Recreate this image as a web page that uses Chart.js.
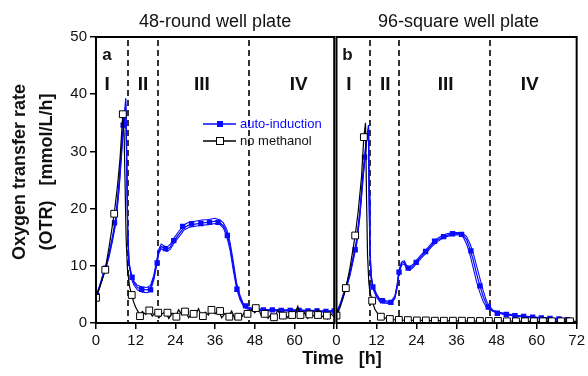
<!DOCTYPE html>
<html>
<head>
<meta charset="utf-8">
<script src="https://cdn.jsdelivr.net/npm/chart.js@4.4.1/dist/chart.umd.min.js"></script>
<style>
  html, body { margin: 0; padding: 0; background: #fff; }
  #wrap { position: relative; width: 588px; height: 376px; overflow: hidden; }
  canvas { position: absolute; top: 0; }
</style>
</head>
<body>
<div id="wrap">
  <canvas id="chartA" width="340" height="376" style="left:0"></canvas>
  <canvas id="chartB" width="298" height="376" style="left:290px"></canvas>
</div>
<script>
// ---- panel a : 48-round well plate ----
const timeBlueA = [0,1,2,3,4,5,6,7,8,8.6,9,9.3,9.6,10,10.8,11.5,12.5,14,15.5,16.5,17.5,18.3,19,19.7,20.5,21.5,22.5,23.5,25,26.5,28,30,32,34,36,37.5,38.5,39.5,40.5,41.5,42.5,43.5,44.5,45.5,47,50,55,60,65,70,72];
const blueA1 = [4.6,6.2,8.0,9.8,12.0,14.8,18.0,24.0,32.5,36.5,39.3,28,16,10.5,8.0,7.0,6.2,5.9,5.8,6.2,8.0,10.4,12.5,13.4,13.1,12.9,13.3,14.3,15.5,16.6,17.1,17.3,17.5,17.6,17.8,17.5,17.0,15.8,13.5,10.0,6.5,4.5,3.2,2.7,2.4,2.3,2.2,2.2,2.1,2.0,2.1];
const blueA2 = [4.8,6.4,8.3,10.1,12.3,15.2,18.6,25.0,33.0,35.5,37.0,27,15,10.0,7.6,6.6,5.8,5.4,5.3,5.7,7.6,10.0,12.2,13.0,12.7,12.5,12.9,13.9,15.0,16.2,16.7,16.9,17.1,17.2,17.4,17.2,16.6,15.2,12.8,9.2,6.0,4.1,3.0,2.5,2.3,2.2,2.1,2.1,2.0,1.9,2.0];
const blueA3 = [4.4,6.0,7.8,9.6,11.7,14.4,17.5,23.5,31.5,36.0,38.2,28.5,15.5,10.3,8.3,7.3,6.6,6.3,6.2,6.6,8.4,10.8,12.9,13.8,13.5,13.3,13.8,14.8,16.0,17.1,17.6,17.8,18.0,18.1,18.3,18.0,17.5,16.4,14.2,10.8,7.0,4.9,3.4,2.9,2.6,2.4,2.3,2.3,2.2,2.1,2.2];
const mkTimeBlueA = [0.3,3.0,5.6,8.2,10.9,13.8,16.5,18.5,21.0,23.5,26.2,28.9,31.7,34.3,36.9,39.7,42.6,45.2,47.9,50.6,53.3,56.0,58.7,61.4,64.1,66.8,69.5,72];
const mkBlueA = [4.8,9.6,17.5,34.6,8.0,5.9,5.8,10.5,13.0,14.4,16.9,17.3,17.4,17.6,17.6,15.3,5.9,3.0,2.5,2.3,2.3,2.2,2.2,2.2,2.1,2.1,2.0,2.1];

const timeBlackA = [0,1,2,2.8,4,5.5,6.5,7.3,8.1,8.5,8.8,9.1,9.5,10.1,10.8,11.3,11.8,12.3,12.8,13.3,14,15,16,17,18,19,20,21,22,23,24,25,26,27,28,29,30,31,32,33,34,35,36,37,38,39,40,41,42,43,44,45,46,47,48,49,50,51,52,53,54,55,56,57,58,59,60,61,62,63,64,65,66,67,68,69,70,71,72];
const blackA = [4.4,6.0,7.8,9.3,13.5,19.1,24.0,29.0,36.5,33.0,24.0,15.0,9.5,6.5,4.9,3.8,3.0,2.4,1.9,1.2,2.0,1.5,2.3,1.2,1.9,0.9,1.6,2.0,0.8,1.7,1.1,2.3,1.4,2.2,0.9,1.8,1.3,2.5,1.0,1.9,1.4,2.6,1.6,2.2,0.9,1.7,1.2,2.1,0.7,1.5,1.0,2.0,1.3,2.4,1.8,2.7,1.2,1.9,0.8,1.6,1.1,2.3,1.0,1.7,0.9,2.0,1.3,2.9,1.1,1.8,0.8,1.6,1.2,2.4,0.9,1.5,0.7,1.6,1.1];
const mkTimeBlackA = [0,2.8,5.5,8.1,10.8,13.3,16.1,18.8,21.6,24.3,26.9,29.5,32.3,34.9,37.5,40.3,43.0,45.8,48.3,51.0,53.8,56.5,59.3,61.8,64.5,67.1,69.8];
const mkBlackA = [4.4,9.3,19.1,36.5,4.9,1.2,2.2,1.8,1.8,1.1,2.0,1.6,1.2,2.3,2.1,1.1,1.1,1.6,2.6,1.6,1.0,1.3,1.4,1.4,1.5,1.4,1.3];
const phasesA = [9.6, 18.6, 46.1];

// ---- panel b : 96-square well plate ----
const timeBlueB = [0,1,2,3,4,5,6,7,8,9,9.6,9.8,10.0,10.4,10.9,12,13,14,15.5,16.5,17.5,18.2,18.7,19.5,20.3,21,21.8,23,24,25.5,27,28.5,30,31.5,33,35,37,38,39,40,41,42,43,44,45,46,47,48.5,51,54,57,60,63,66,69,71];
const blueB1 = [1.9,3.0,4.8,6.4,8.5,11.2,14.0,19.0,26.0,32.0,34.6,22,13,8,6.3,4.8,4.0,3.8,3.6,3.7,4.5,6.5,8.9,10.4,10.6,9.8,9.5,10.0,10.7,11.7,12.6,13.6,14.4,14.9,15.3,15.6,15.6,15.3,14.6,13.0,11.0,8.6,6.5,4.6,3.2,2.5,2.1,1.8,1.5,1.3,1.1,1.0,0.85,0.7,0.6,0.55];
const blueB2 = [2.0,3.2,5.0,6.7,8.8,11.6,14.5,19.6,26.8,32.6,33.8,21,12.5,7.6,6.0,4.5,3.7,3.5,3.4,3.5,4.3,6.2,8.6,10.1,10.3,9.5,9.2,9.7,10.4,11.4,12.3,13.3,14.1,14.7,15.1,15.4,15.4,15.0,13.8,12.0,9.6,7.2,5.3,3.7,2.7,2.3,2.0,1.7,1.4,1.2,1.0,0.95,0.8,0.7,0.6,0.55];
const blueB3 = [1.8,2.9,4.6,6.2,8.2,10.9,13.6,18.5,25.4,31.5,34.2,23,13.5,8.4,6.6,5.1,4.2,4.0,3.8,3.9,4.7,6.8,9.2,10.7,10.9,10.1,9.8,10.3,11.0,12.0,12.9,13.9,14.7,15.2,15.6,15.8,15.8,15.6,15.1,13.9,12.2,10.0,7.8,5.6,3.8,2.8,2.2,1.9,1.6,1.35,1.15,1.0,0.9,0.75,0.65,0.6];
const mkTimeBlueB = [0,2.8,5.6,8.4,10.9,13.8,16.3,18.75,21.5,23.9,26.7,29.4,32.1,34.8,37.5,40.3,43.0,45.5,48.2,50.9,53.5,56.1,58.8,61.4,64.0,66.7,69.2];
const mkBlueB = [1.9,6.2,12.8,29.0,6.3,3.9,3.6,8.9,9.6,10.6,12.5,14.3,15.1,15.6,15.5,12.6,6.5,2.8,1.7,1.5,1.3,1.15,1.0,0.9,0.8,0.7,0.6];

const timeBlackB = [0,1,2,2.8,4,5.6,6.5,7.5,8.2,8.7,9.0,9.3,9.7,10.0,10.7,11.5,12.5,13.3,15,17,20,25,30,40,50,60,72];
const blackB = [1.3,2.6,4.4,6.1,9.5,15.3,19.5,25.5,32.5,35.0,22.0,12.0,7.0,5.5,3.9,2.4,1.5,1.1,0.8,0.6,0.5,0.45,0.4,0.35,0.35,0.3,0.3];
const mkTimeBlackB = [0,2.8,5.6,8.2,10.7,13.3,16.0,18.7,21.4,24.1,26.8,29.5,32.2,34.9,37.6,40.3,43.0,45.7,48.4,51.1,53.8,56.5,59.2,61.9,64.6,67.3,70.0];
const mkBlackB = [1.3,6.1,15.3,32.5,3.9,1.1,0.7,0.55,0.5,0.45,0.45,0.4,0.4,0.4,0.4,0.35,0.35,0.35,0.35,0.3,0.3,0.3,0.3,0.3,0.3,0.3,0.3];
const phasesB = [9.9, 18.75, 45.9];

const xTicks = [0, 12, 24, 36, 48, 60, 72];
const seriesNames = ['auto-induction', 'no methanol'];

const FONT = "'Liberation Sans', Arial, sans-serif";
const BLUE = '#0a0aff';

const pts = (t, v) => t.map((x, i) => ({ x, y: v[i] }));

function datasets(tb, b1, b2, b3, mtb, mb, tk, k, mtk, mk) {
  return [
    { data: pts(mtk, mk), showLine: false, pointStyle: 'rect', pointRadius: 4.8,
      pointBackgroundColor: '#fff', pointBorderColor: '#000', pointBorderWidth: 1 },
    { data: pts(tk, k), borderColor: '#000', borderWidth: 1.2, pointRadius: 0 },
    { data: pts(mtb, mb), showLine: false, pointStyle: 'rect', pointRadius: 3.8,
      pointBackgroundColor: BLUE, pointBorderColor: BLUE, pointBorderWidth: 0 },
    { data: pts(tb, b1), borderColor: BLUE, borderWidth: 1.3, pointRadius: 0 },
    { data: pts(tb, b2), borderColor: BLUE, borderWidth: 1.1, pointRadius: 0 },
    { data: pts(tb, b3), borderColor: BLUE, borderWidth: 1.1, pointRadius: 0 }
  ];
}

// dashed phase lines, frame, panel texts
const panelDecor = {
  id: 'panelDecor',
  beforeDatasetsDraw(chart, args, o) {
    const { ctx, chartArea: a, scales: { x } } = chart;
    ctx.save();
    ctx.setLineDash([6, 4]);
    ctx.lineWidth = 2;
    ctx.strokeStyle = '#333';
    o.phases.forEach(t => {
      const px = Math.round(x.getPixelForValue(t));
      ctx.beginPath(); ctx.moveTo(px, a.top + 3); ctx.lineTo(px, a.bottom); ctx.stroke();
    });
    ctx.restore();
  },
  afterDraw(chart, args, o) {
    const { ctx, chartArea: a, scales: { x } } = chart;
    ctx.save();
    ctx.lineWidth = 2;
    ctx.strokeStyle = '#000';
    ctx.strokeRect(a.left, a.top, a.width, a.height);

    ctx.fillStyle = '#111';
    ctx.textAlign = 'center';
    ctx.textBaseline = 'middle';
    ctx.font = '18px ' + FONT;
    ctx.fillText(o.title, (a.left + a.right) / 2 + o.titleShift, 22);

    ctx.font = 'bold 17px ' + FONT;
    ctx.fillText(o.letter, a.left + 11, 55);

    ctx.font = 'bold 19px ' + FONT;
    o.romans.forEach(r => ctx.fillText(r[0], x.getPixelForValue(r[1]), a.top + 48));

    if (o.legend) {
      const lx = 203, rows = [[BLUE, true, 124], ['#000', false, 141]];
      rows.forEach((r, i) => {
        ctx.strokeStyle = r[0]; ctx.lineWidth = 1.5;
        ctx.beginPath(); ctx.moveTo(lx, r[2]); ctx.lineTo(lx + 33, r[2]); ctx.stroke();
        if (r[1]) { ctx.fillStyle = BLUE; ctx.fillRect(lx + 14, r[2] - 3, 6, 6); }
        else { ctx.fillStyle = '#fff'; ctx.fillRect(lx + 13.5, r[2] - 3.5, 7, 7);
               ctx.lineWidth = 1; ctx.strokeRect(lx + 13.5, r[2] - 3.5, 7, 7); }
        ctx.fillStyle = r[1] ? BLUE : '#111';
        ctx.font = '13px ' + FONT;
        ctx.textAlign = 'left';
        ctx.fillText(seriesNames[i], lx + 37, r[2]);
      });
    }
    if (o.yTitle) {
      ctx.fillStyle = '#111';
      ctx.font = 'bold 18px ' + FONT;
      ctx.textAlign = 'center';
      ctx.translate(0, 172);
      ctx.rotate(-Math.PI / 2);
      ctx.fillText('Oxygen transfer rate', 0, 20);
      ctx.fillText('(OTR)   [mmol/L/h]', 0, 47);
    }
    if (o.xTitle) {
      ctx.fillStyle = '#111';
      ctx.font = 'bold 18px ' + FONT;
      ctx.textAlign = 'center';
      ctx.fillText('Time   [h]', 342 - 290, 359);
    }
    ctx.restore();
  }
};

function makeOptions(panel) {
  return {
    responsive: false,
    animation: false,
    events: [],
    layout: { padding: { top: 37, right: panel.padRight, left: 0, bottom: 0 } },
    elements: { line: { tension: 0 } },
    scales: {
      x: {
        type: 'linear', min: 0, max: 72,
        afterBuildTicks: s => { s.ticks = xTicks.map(v => ({ value: v })); },
        afterFit: s => { s.height = 53; },
        grid: { drawOnChartArea: false, drawTicks: true, tickLength: 6, color: '#000', lineWidth: 1.5 },
        border: { display: false },
        ticks: { color: '#111', font: { family: FONT, size: 15 }, padding: 3, maxRotation: 0,
                 callback: v => (panel.hideLast && v === 72) ? '' : v }
      },
      y: {
        min: 0, max: 50,
        afterFit: s => { s.width = panel.yWidth; },
        grid: panel.showY ? { drawOnChartArea: false, drawTicks: true, tickLength: 6, color: '#000', lineWidth: 1.5 } : { display: false },
        border: { display: false },
        ticks: panel.showY ? { color: '#111', font: { family: FONT, size: 15 }, padding: 3, stepSize: 10 } : { display: false }
      }
    },
    plugins: {
      legend: { display: false },
      tooltip: { enabled: false },
      panelDecor: panel.decor
    }
  };
}

new Chart(document.getElementById('chartA'), {
  type: 'line',
  data: { datasets: datasets(timeBlueA, blueA1, blueA2, blueA3, mkTimeBlueA, mkBlueA, timeBlackA, blackA, mkTimeBlackA, mkBlackA) },
  options: makeOptions({
    padRight: 4, yWidth: 96, showY: true, hideLast: true,
    decor: { phases: phasesA, title: '48-round well plate', titleShift: 0, letter: 'a',
             romans: [['I', 3.4], ['II', 14.2], ['III', 32], ['IV', 61.3]], legend: true, yTitle: true }
  }),
  plugins: [panelDecor]
});

new Chart(document.getElementById('chartB'), {
  type: 'line',
  data: { datasets: datasets(timeBlueB, blueB1, blueB2, blueB3, mkTimeBlueB, mkBlueB, timeBlackB, blackB, mkTimeBlackB, mkBlackB) },
  options: makeOptions({
    padRight: 9, yWidth: 46.5, showY: false, hideLast: false,
    decor: { phases: phasesB, title: '96-square well plate', titleShift: 2, letter: 'b',
             romans: [['I', 3.7], ['II', 14.6], ['III', 32.7], ['IV', 57.9]], xTitle: true }
  }),
  plugins: [panelDecor]
});
</script>
</body>
</html>
